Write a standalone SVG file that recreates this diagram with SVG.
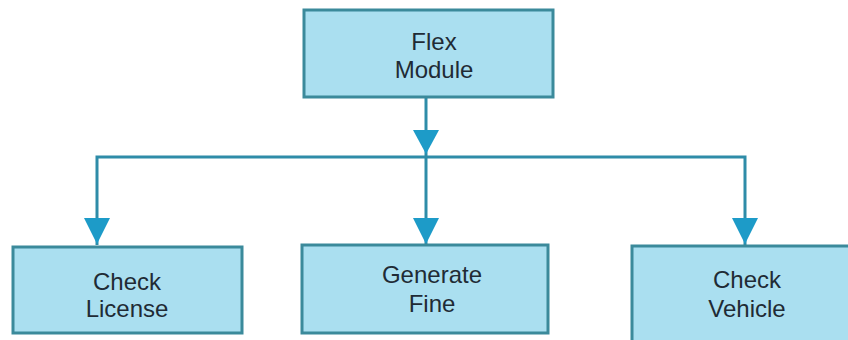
<svg xmlns="http://www.w3.org/2000/svg" width="848" height="340" viewBox="0 0 848 340">
  <style>
    .box { fill: #aadff0; stroke: #3b8a9b; stroke-width: 3; }
    .lbl { font-family: "Liberation Sans", Arial, sans-serif; font-size: 24px; fill: #1f2b35; text-anchor: middle; }
    .wire { fill: none; stroke: #2e8ca8; stroke-width: 3; }
    .head { fill: #1d9bc8; }
  </style>
  <rect width="848" height="340" fill="#ffffff"/>

  <g id="connectors">
    <path class="wire" d="M426 97 V245"/>
    <path class="wire" d="M97 245 V157 H745 V245"/>
    <polygon class="head" points="413,130 439,130 426,154"/>
    <polygon class="head" points="84,218 110,218 97,244"/>
    <polygon class="head" points="413,218 439,218 426,244"/>
    <polygon class="head" points="732,218 758,218 745,244"/>
  </g>

  <g id="flex-module">
    <rect class="box" x="304" y="10" width="249" height="87"/>
    <text class="lbl" x="434" y="50">Flex</text>
    <text class="lbl" x="434" y="78">Module</text>
  </g>

  <g id="check-license">
    <rect class="box" x="13" y="247" width="229" height="86"/>
    <text class="lbl" x="127" y="290">Check</text>
    <text class="lbl" x="127" y="317">License</text>
  </g>

  <g id="generate-fine">
    <rect class="box" x="302" y="245" width="246" height="88"/>
    <text class="lbl" x="432" y="283">Generate</text>
    <text class="lbl" x="432" y="312">Fine</text>
  </g>

  <g id="check-vehicle">
    <rect class="box" x="632" y="246" width="230" height="110"/>
    <text class="lbl" x="747" y="288">Check</text>
    <text class="lbl" x="747" y="317">Vehicle</text>
  </g>
</svg>
